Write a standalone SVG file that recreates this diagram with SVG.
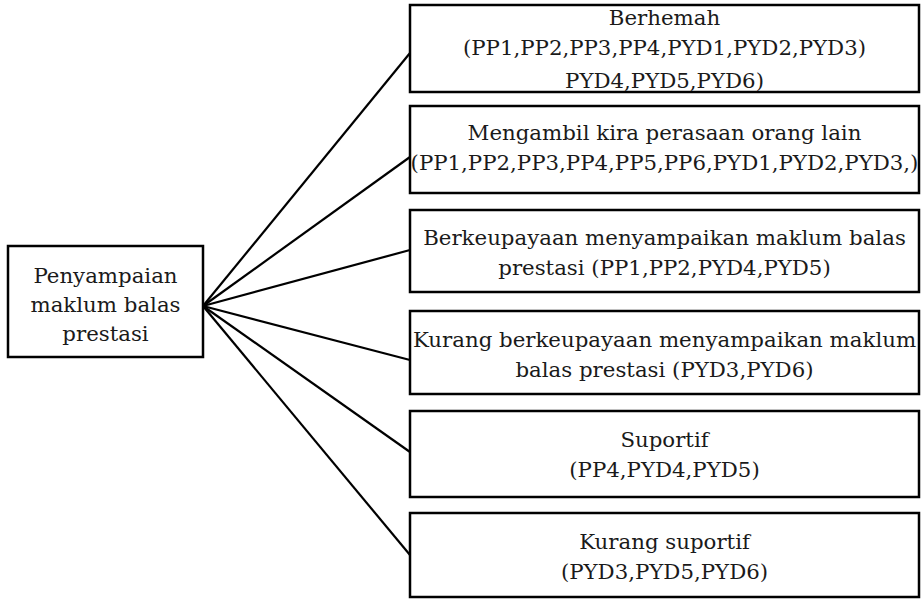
<svg xmlns="http://www.w3.org/2000/svg" width="921" height="599" viewBox="0 0 921 599">
<style>
.box{fill:#fff;stroke:#000;stroke-width:2.5}
.t{font-family:"DejaVu Serif","Liberation Serif",serif;font-size:21.3px;fill:#1a1a1a;text-anchor:middle}
.c{stroke:#000;stroke-width:2.2;fill:none}
</style>
<rect width="921" height="599" fill="#fff"/>
<g id="connectors">
<line class="c" x1="203" y1="306" x2="410" y2="53"/>
<line class="c" x1="203" y1="306" x2="410" y2="157"/>
<line class="c" x1="203" y1="306" x2="410" y2="250"/>
<line class="c" x1="203" y1="306" x2="410" y2="360"/>
<line class="c" x1="203" y1="306" x2="410" y2="452"/>
<line class="c" x1="203" y1="306" x2="410" y2="555"/>
</g>
<g id="root">
<rect class="box" x="8" y="246" width="195" height="111"/>
<text class="t" x="105.5" y="283">Penyampaian</text>
<text class="t" x="105.5" y="312">maklum balas</text>
<text class="t" x="105.5" y="341">prestasi</text>
</g>
<g id="n1">
<rect class="box" x="410" y="5" width="509" height="87"/>
<text class="t" x="664.5" y="25">Berhemah</text>
<text class="t" x="664.5" y="55">(PP1,PP2,PP3,PP4,PYD1,PYD2,PYD3)</text>
<text class="t" x="664.5" y="88">PYD4,PYD5,PYD6)</text>
</g>
<g id="n2">
<rect class="box" x="410" y="106" width="509" height="87"/>
<text class="t" x="664.5" y="140">Mengambil kira perasaan orang lain</text>
<text class="t" x="664.5" y="170">(PP1,PP2,PP3,PP4,PP5,PP6,PYD1,PYD2,PYD3,)</text>
</g>
<g id="n3">
<rect class="box" x="410" y="210" width="509" height="82"/>
<text class="t" x="664.5" y="245">Berkeupayaan menyampaikan maklum balas</text>
<text class="t" x="664.5" y="275">prestasi (PP1,PP2,PYD4,PYD5)</text>
</g>
<g id="n4">
<rect class="box" x="410" y="311" width="509" height="83"/>
<text class="t" x="664.5" y="347">Kurang berkeupayaan menyampaikan maklum</text>
<text class="t" x="664.5" y="377">balas prestasi (PYD3,PYD6)</text>
</g>
<g id="n5">
<rect class="box" x="410" y="411" width="509" height="86"/>
<text class="t" x="664.5" y="447">Suportif</text>
<text class="t" x="664.5" y="477">(PP4,PYD4,PYD5)</text>
</g>
<g id="n6">
<rect class="box" x="410" y="513" width="509" height="84"/>
<text class="t" x="664.5" y="549">Kurang suportif</text>
<text class="t" x="664.5" y="579">(PYD3,PYD5,PYD6)</text>
</g>
</svg>
